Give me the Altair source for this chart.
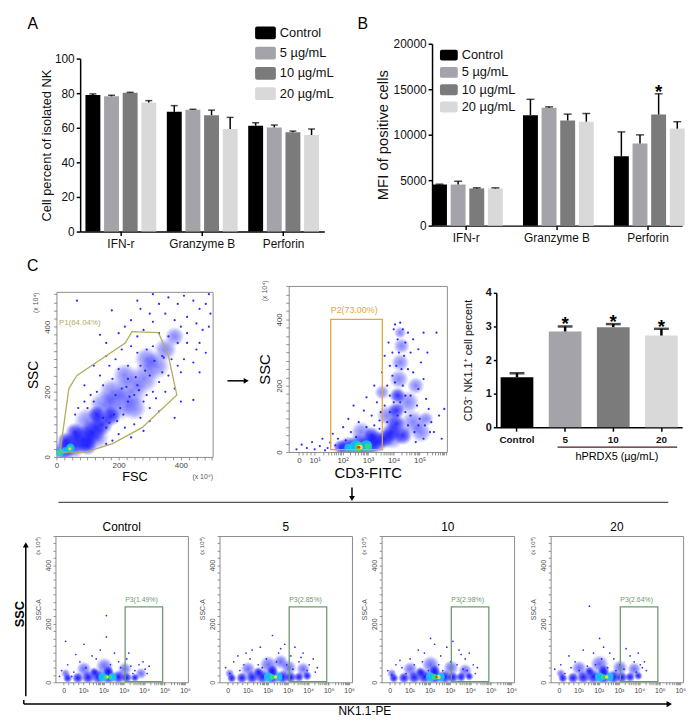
import math
import altair as alt
import pandas as pd

FONT = "Liberation Sans"

# ---------------------------------------------------------------- panel A / B
CATS = ["IFN-r", "Granzyme B", "Perforin"]
GROUPS = ["Control", " 5 µg/mL", "10 µg/mL", "20 µg/mL"]
GROUP_COLORS = ["#000000", "#a3a3a9", "#7b7b7b", "#d9d9d9"]

A_IFN = [79.0, 78.2, 80.2, 74.6]
A_IFN_ERR = [0.6, 0.6, 0.3, 1.1]
A_GZB = [69.2, 70.4, 67.3, 59.3]
A_GZB_ERR = [3.6, 0.3, 2.9, 6.7]
A_PRF = [61.2, 60.2, 57.4, 55.8]
A_PRF_ERR = [1.7, 1.4, 0.7, 3.5]
A_TICKS = [0, 20, 40, 60, 80, 100]

B_IFN = [4520, 4520, 4090, 4090]
B_IFN_ERR = [40, 360, 70, 70]
B_GZB = [12150, 12950, 11570, 11430]
B_GZB_ERR = [1740, 110, 690, 900]
B_PRF = [7630, 9040, 12220, 10670]
B_PRF_ERR = [2680, 940, 2280, 760]
B_TICKS = [0, 5000, 10000, 15000, 20000]
B_STAR = [("Perforin", "10 µg/mL")]

# ---------------------------------------------------------------- panel C bars
C_CATS = ["Control", "5", "10", "20"]
C_VALS = [1.49, 2.85, 2.98, 2.73]
C_ERRS = [0.12, 0.15, 0.09, 0.20]
C_STARS = ["", "*", "*", "*"]
C_TICKS = [0, 1, 2, 3, 4]

# ---------------------------------------------------------------- FSC / SSC dot plot
# density clusters: (x, y, relative spread, level 1-2 blue haze / 3-6 hot core)
S1_BLOBS = [
    (25, 20, 300, 2), (55, 35, 420, 2), (85, 55, 450, 2), (115, 75, 420, 2), (145, 100, 360, 2),
    (60, 75, 260, 2), (100, 35, 260, 2), (30, 50, 200, 2), (175, 125, 260, 2), (130, 130, 220, 2),
    (200, 160, 700, 1), (240, 200, 700, 1), (280, 240, 600, 1), (320, 280, 500, 1), (180, 200, 500, 1),
    (250, 150, 400, 1), (150, 160, 500, 1), (350, 330, 350, 1), (290, 300, 400, 1), (220, 250, 400, 1),
    (380, 370, 250, 1), (100, 110, 500, 1), (130, 60, 400, 1),
    (12, 14, 45, 3), (45, 28, 50, 3), (28, 20, 25, 3), (10, 12, 15, 4), (44, 26, 16, 4), (43, 25, 5, 5),
]
S1_DOTS = [
    (240, 420), (270, 455), (300, 440), (330, 470), (360, 490), (390, 470), (410, 495), (440, 480),
    (460, 455), (480, 470), (495, 440), (420, 430), (450, 410), (470, 390), (490, 400), (400, 400),
    (380, 420), (350, 440), (310, 415), (280, 390), (260, 370), (330, 380), (360, 370), (390, 350),
    (420, 350), (450, 330), (480, 320), (440, 290), (460, 260), (410, 300), (400, 260), (370, 300),
    (340, 310), (310, 340), (290, 330), (260, 320), (240, 340), (210, 330), (190, 300), (170, 280),
    (200, 270), (230, 280), (270, 280), (300, 250), (330, 230), (360, 250), (350, 200), (380, 210),
    (320, 180), (300, 150), (280, 170), (250, 190), (230, 170), (210, 210), (180, 240), (150, 220),
    (130, 200), (110, 190), (90, 170), (70, 150), (60, 130), (100, 150), (120, 170), (140, 250),
    (160, 310), (120, 280), (200, 380), (220, 400), (160, 350), (90, 220), (270, 120), (300, 110),
    (330, 140), (250, 100), (220, 90), (200, 70), (240, 60), (180, 50), (160, 40), (280, 80),
    (310, 200), (340, 260), (390, 280), (420, 380), (460, 350), (230, 240), (190, 190), (260, 220),
    (290, 190), (215, 130), (380, 120), (400, 170), (66, 480), (140, 375), (178, 450), (440, 175),
    (260, 480), (310, 500), (490, 500), (205, 150), (235, 185), (265, 205), (185, 130), (170, 105),
    (225, 215), (255, 245), (285, 265), (315, 295), (345, 305), (150, 120), (160, 90), (195, 110),
]
P1_X = [13, 40, 66, 221, 243, 328, 360, 387, 275, 179, 93, 18]
P1_Y = [25, 210, 250, 350, 385, 382, 310, 190, 90, 40, 15, 15]

# ---------------------------------------------------------------- CD3-FITC dot plot (decade positions)
S2_BLOBS = [
    (2.3, 18, 250, 2), (2.7, 20, 350, 2), (3.1, 22, 350, 2), (3.4, 30, 300, 2), (2.0, 15, 150, 2),
    (3.7, 40, 250, 2), (3.95, 60, 250, 2), (4.15, 85, 250, 2), (4.4, 50, 250, 2), (4.15, 125, 200, 2),
    (4.2, 170, 180, 2), (3.2, 50, 200, 2),
    (4.25, 220, 250, 1), (4.3, 270, 220, 1), (4.35, 320, 180, 1), (4.3, 360, 100, 1), (4.8, 90, 400, 1),
    (5.1, 60, 300, 1), (4.6, 150, 350, 1), (3.8, 110, 300, 1), (2.8, 60, 300, 1), (4.0, 40, 300, 1),
    (5.3, 100, 150, 1), (4.9, 200, 200, 1), (3.6, 180, 150, 1),
    (2.6, 15, 120, 3), (3.0, 18, 90, 3), (2.3, 13, 40, 3), (2.7, 15, 50, 4), (3.05, 17, 25, 4),
    (2.75, 14, 18, 5), (2.7, 14, 6, 6),
]
S2_DOTS = [
    (0.3, 8), (0.5, 22), (0.7, 12), (0.9, 30), (1.0, 8), (1.2, 18), (1.3, 40), (1.5, 12), (1.6, 28),
    (1.7, 55), (1.8, 20), (1.9, 40), (2.1, 75), (2.3, 100), (2.5, 140), (2.4, 60), (2.7, 90), (2.9, 125),
    (3.0, 165), (3.2, 110), (3.3, 200), (3.4, 150), (3.5, 95), (3.6, 240), (3.7, 290), (3.8, 200),
    (3.85, 330), (3.9, 260), (4.0, 300), (4.05, 370), (4.1, 385), (4.2, 340), (4.3, 390), (4.4, 370),
    (4.5, 330), (4.6, 360), (4.7, 300), (4.8, 340), (5.0, 310), (4.6, 250), (4.8, 240), (5.0, 190),
    (5.2, 220), (5.3, 160), (5.4, 130), (5.5, 90), (5.6, 60), (5.8, 110), (5.9, 40), (5.2, 40),
    (4.9, 30), (4.5, 120), (4.7, 170), (4.4, 200), (4.0, 230), (4.15, 260), (3.9, 170), (3.7, 140),
    (3.5, 70), (3.3, 80), (4.95, 140), (5.1, 270), (5.35, 300), (5.7, 360), (5.2, 360), (4.45, 290),
    (2.2, 35), (2.6, 45), (3.0, 75), (3.8, 90), (4.3, 150), (4.6, 80), (5.05, 100), (5.45, 60),
    (5.25, 80), (3.55, 120), (4.85, 60), (1.4, 5), (2.0, 8), (6.0, 130), (4.1, 210), (4.25, 300),
    (4.35, 250), (4.2, 110), (4.05, 150), (4.5, 170), (3.9, 120), (4.7, 110), (5.0, 80),
]
S2_GATE = (1.62, 3.61, 7, 400)

# ---------------------------------------------------------------- NK1.1-PE dot plots
P_TITLES = ["Control", "5", "10", "20"]
P_GATE_TEXT = ["P3(1.49%)", "P3(2.85%)", "P3(2.98%)", "P3(2.64%)"]
P_GATE = (3.42, 5.26, 2, 258)

PC_BLOBS = [
    (0.6, 14, 60, 2), (1.1, 15, 90, 2), (1.6, 17, 120, 2), (2.1, 19, 150, 2), (2.6, 19, 160, 2),
    (3.1, 18, 130, 2), (3.5, 16, 80, 2), (3.9, 16, 50, 2), (1.9, 35, 60, 2), (2.6, 38, 80, 2),
    (2.4, 55, 200, 1), (1.4, 45, 150, 1), (3.4, 45, 130, 1), (4.2, 30, 90, 1), (0.5, 30, 60, 1),
    (2.3, 18, 45, 3), (2.8, 18, 40, 3), (2.5, 18, 18, 4), (2.7, 18, 10, 4), (2.55, 18, 4, 5),
]
PC_DOTS = [
    (0.3, 40), (0.6, 60), (0.9, 35), (1.2, 70), (1.5, 50), (1.8, 90), (2.0, 80), (2.5, 228), (2.5, 155),
    (2.2, 110), (2.7, 60), (2.9, 100), (3.1, 70), (3.2, 50), (3.5, 80), (3.7, 55), (3.9, 40), (4.1, 60),
    (4.4, 45), (4.6, 55), (0.5, 140), (1.4, 130), (3.6, 100), (4.3, 70), (1.0, 95), (2.6, 40), (3.8, 30),
    (4.5, 30), (0.2, 20), (0.8, 20),
]
P5_BLOBS = [
    (0.6, 14, 60, 2), (1.1, 15, 90, 2), (1.6, 17, 120, 2), (2.1, 19, 150, 2), (2.6, 19, 170, 2),
    (3.1, 18, 140, 2), (3.5, 17, 90, 2), (3.9, 18, 70, 2), (4.3, 22, 60, 2), (1.9, 35, 70, 2),
    (2.6, 40, 90, 2), (2.4, 60, 220, 1), (1.4, 45, 150, 1), (3.4, 50, 160, 1), (4.1, 45, 130, 1),
    (3.0, 70, 150, 1), (0.5, 30, 60, 1),
    (2.4, 18, 55, 3), (2.9, 18, 40, 3), (2.6, 18, 20, 4), (2.75, 18, 8, 5),
]
P5_DOTS = [
    (0.3, 50), (0.7, 70), (1.0, 40), (1.3, 100), (1.6, 110), (2.0, 120), (2.3, 80), (2.6, 160), (2.9, 100),
    (3.2, 130), (3.5, 90), (3.7, 120), (3.9, 70), (4.1, 100), (4.4, 60), (4.6, 80), (4.8, 50), (3.3, 60),
    (2.8, 70), (1.9, 60), (1.2, 60), (0.5, 30), (4.3, 40), (4.7, 35), (3.6, 45), (2.1, 50), (4.0, 85),
    (0.9, 90), (3.0, 115), (1.5, 80),
]
P10_BLOBS = [
    (0.6, 14, 60, 2), (1.1, 15, 90, 2), (1.6, 17, 120, 2), (2.1, 19, 150, 2), (2.6, 19, 170, 2),
    (3.1, 18, 140, 2), (3.5, 17, 90, 2), (3.9, 18, 70, 2), (4.3, 20, 50, 2), (1.9, 35, 70, 2),
    (2.6, 40, 90, 2), (2.4, 60, 220, 1), (1.4, 45, 150, 1), (3.4, 50, 160, 1), (4.1, 40, 130, 1),
    (0.5, 30, 60, 1),
    (2.4, 18, 55, 3), (2.9, 18, 45, 3), (2.6, 18, 22, 4), (2.8, 18, 10, 5), (2.7, 18, 3, 6),
]
P10_DOTS = [
    (0.3, 40), (0.7, 60), (1.0, 50), (1.4, 80), (1.8, 110), (2.1, 100), (2.4, 150), (2.6, 130), (2.9, 90),
    (3.2, 120), (3.5, 140), (3.8, 110), (4.1, 80), (4.3, 100), (4.5, 60), (4.7, 50), (3.7, 60), (2.8, 60),
    (2.0, 70), (1.2, 30), (0.5, 25), (3.4, 70), (4.0, 45), (4.6, 30), (2.3, 40), (1.6, 60), (3.0, 40),
    (4.2, 40), (0.9, 75), (3.9, 95),
]
P20_BLOBS = [
    (0.6, 14, 60, 2), (1.1, 15, 90, 2), (1.6, 17, 120, 2), (2.1, 19, 150, 2), (2.6, 19, 170, 2),
    (3.1, 18, 140, 2), (3.5, 17, 90, 2), (3.9, 18, 70, 2), (4.3, 22, 50, 2), (1.9, 38, 70, 2),
    (2.6, 40, 90, 2), (2.4, 62, 230, 1), (1.4, 48, 160, 1), (3.4, 50, 160, 1), (4.1, 45, 130, 1),
    (0.5, 30, 60, 1),
    (2.4, 18, 55, 3), (2.9, 18, 40, 3), (2.6, 18, 20, 4), (2.75, 18, 8, 5),
]
P20_DOTS = [
    (0.2, 45), (0.5, 60), (0.9, 90), (1.2, 70), (1.6, 110), (1.9, 260), (2.1, 100), (2.4, 150), (2.6, 120),
    (2.9, 100), (3.1, 80), (3.4, 60), (3.7, 115), (3.9, 90), (4.1, 70), (4.3, 100), (4.5, 50), (4.7, 40),
    (2.2, 60), (1.4, 40), (0.7, 30), (3.6, 45), (4.2, 35), (4.6, 70), (2.8, 50), (1.8, 55), (3.2, 40),
    (1.0, 50), (2.5, 80), (4.4, 60),
]

# decade axis anchors (position, label)
S2_MAJORS = [(0.39, "0"), (1.0, "10¹"), (2.08, "10²"), (3.06, "10³"), (4.04, "10⁴"), (5.05, "10⁵")]
S2_TICK_ANCHORS = [0.39, 1.0, 2.08, 3.06, 4.04, 5.05, 6.05]
P_MAJORS = [(0.4, "0"), (1.37, "10¹"), (2.36, "10²"), (3.35, "10³"), (4.35, "10⁴"), (5.36, "10⁵"), (6.36, "10⁶")]

# ---------------------------------------------------------------- styles
HOT_LVLS = [3, 4, 5, 6]
HOT_COLORS = ["#10c8ff", "#33e36b", "#f4e43a", "#ff2b00"]
HOT_OPAC = [0.85, 0.95, 1.0, 1.0]
DOT_BLUE = "#1414ff"
GATE1 = "#b3ad5f"
GATE2 = "#e3a73c"
GATE3 = "#6d9a6f"
FRAME = "#8c8c8c"

ONE = pd.DataFrame({"k": [0]})


def anchor(L, R, T, B):
    return alt.Chart(ONE).mark_rect(color="#ffffff", opacity=0).encode(
        x=alt.value(L), x2=alt.value(R), y=alt.value(T), y2=alt.value(B))


def spacer():
    return alt.Chart(ONE).mark_rect(color="#ffffff", opacity=0).encode(
        x=alt.value(0), x2=alt.value(1), y=alt.value(0), y2=alt.value(1)).properties(width=1, height=1)


def vtext(txt, x, y, size, color="#000000", angle=0, weight="normal", align="center"):
    return alt.Chart(ONE).mark_text(text=txt, fontSize=size, color=color, angle=angle, fontWeight=weight,
                                    align=align, baseline="middle", font=FONT).encode(
        x=alt.value(x), y=alt.value(y))


def vrect(x1, y1, x2, y2, color):
    return alt.Chart(ONE).mark_rect(color=color, cornerRadius=2).encode(
        x=alt.value(x1), x2=alt.value(x2), y=alt.value(y1), y2=alt.value(y2))


def vrule(x1, y1, x2, y2, width=1.3, color="#000000"):
    return alt.Chart(ONE).mark_rule(color=color, strokeWidth=width).encode(
        x=alt.value(x1), y=alt.value(y1), x2=alt.value(x2), y2=alt.value(y2))


def vtri(x, y, shape, size=40):
    return alt.Chart(ONE).mark_point(shape=shape, filled=True, size=size, color="#000000", opacity=1).encode(
        x=alt.value(x), y=alt.value(y))


def manual_legend(x0, y0, w, h, step, fsize):
    out = []
    for i, (g, c) in enumerate(zip(GROUPS, GROUP_COLORS)):
        top = y0 + i * step
        out.append(vrect(x0, top, x0 + w, top + h, c))
        out.append(vtext(g, x0 + w + 4, top + h / 2, fsize, color="#111111", align="left"))
    return out


def tick_positions(anchors, end):
    vals = list(anchors)
    for k in range(len(anchors) - 1):
        a, b = anchors[k], anchors[k + 1]
        if k == 0:
            vals += [a + (b - a) * i / 4 for i in (1, 2, 3)]
        else:
            vals += [a + (b - a) * math.log10(m) for m in range(2, 10)]
    return sorted(v for v in vals if v <= end)


def label_expr(majors):
    expr = "''"
    for p, lab in reversed(majors):
        expr = f"abs(datum.value - {p}) < 0.001 ? '{lab}' : ({expr})"
    return expr


AX_SCAT = dict(grid=False, domain=False, tickColor="#777777", tickWidth=0.8, labelColor="#444444",
               labelFont=FONT, labelOverlap=False, labelFlush=False, titleFont=FONT,
               titleFontWeight="normal")


def radial(alpha):
    return alt.Gradient(gradient="radial", stops=[
        alt.GradientStop(offset=0, color=f"rgba(8,8,255,{alpha})"),
        alt.GradientStop(offset=0.55, color=f"rgba(16,16,255,{alpha * 0.65:.3f})"),
        alt.GradientStop(offset=1, color="rgba(40,40,255,0)")])


def cloud(blobs, dots, dot_size, X, Y, alphas=(0.5, 0.85)):
    bdf = pd.DataFrame([{"x": x, "y": y, "w": w, "lvl": l} for x, y, w, l in blobs])
    ddf = pd.DataFrame([{"x": x, "y": y} for x, y in dots])
    hot_df = bdf[bdf["lvl"] >= 3]
    layers = []
    for lvl, alpha in zip((1, 2), alphas):
        sub = bdf[bdf["lvl"] == lvl]
        layers.append(alt.Chart(sub).mark_circle(clip=True, strokeWidth=0, color=radial(alpha), opacity=1).encode(
            x=X("x:Q"), y=Y("y:Q"),
            size=alt.Size("w:Q", scale=alt.Scale(domain=[0, 700], range=[0, 1100]), legend=None)))
    layers.append(alt.Chart(ddf).mark_circle(clip=True, strokeWidth=0, color=DOT_BLUE, size=dot_size,
                                             opacity=0.9).encode(x=X("x:Q"), y=Y("y:Q")))
    layers.append(alt.Chart(hot_df).mark_circle(clip=True, strokeWidth=0).encode(
        x=X("x:Q"), y=Y("y:Q"),
        size=alt.Size("w:Q", scale=alt.Scale(domain=[0, 700], range=[0, 800]), legend=None),
        color=alt.Color("lvl:O", scale=alt.Scale(domain=HOT_LVLS, range=HOT_COLORS), legend=None),
        opacity=alt.Opacity("lvl:O", scale=alt.Scale(domain=HOT_LVLS, range=HOT_OPAC), legend=None),
        order=alt.Order("lvl:Q")))
    return layers


def gate_rect(g, color, X, Y):
    df = pd.DataFrame({"x": [g[0]], "x2": [g[1]], "y": [g[2]], "y2": [g[3]]})
    return alt.Chart(df).mark_rect(filled=False, color=color, strokeWidth=1.3).encode(
        x=X("x:Q"), x2="x2:Q", y=Y("y:Q"), y2="y2:Q")


def gate_label(x, y, text, color, size, X, Y):
    df = pd.DataFrame({"x": [x], "y": [y], "t": [text]})
    return alt.Chart(df).mark_text(align="left", baseline="middle", fontSize=size, color=color, font=FONT).encode(
        x=X("x:Q"), y=Y("y:Q"), text="t:N")


# ---------------------------------------------------------------- grouped bars (A, B)
def grouped_df(vals, errs):
    rows = []
    for c, vv, ee in zip(CATS, vals, errs):
        for g, v, e in zip(GROUPS, vv, ee):
            rows.append({"cat": c, "grp": g, "v": v, "top": v + e})
    return pd.DataFrame(rows)


def grouped_chart(df, ymax, yticks, ytitle, tsize, tpad, pin, pout, cap, w, h, box, extra_fn):
    xs = alt.Scale(domain=CATS, paddingInner=pin, paddingOuter=pout)
    xax = alt.Axis(title=None, labelAngle=0, labelFont=FONT, labelFontSize=12, labelColor="#111111",
                   labelPadding=3, domainColor="#000000", domainWidth=1.5, tickColor="#000000",
                   tickWidth=1.5, tickSize=4)
    ys = alt.Scale(domain=[0, ymax], nice=False)
    yax = alt.Axis(values=yticks, format="d", title=ytitle, titleFont=FONT, titleFontSize=tsize,
                   titleFontWeight="normal", titleColor="#111111", titlePadding=tpad, labelFont=FONT,
                   labelFontSize=12, labelColor="#111111", grid=False, domainColor="#000000",
                   domainWidth=1.5, tickColor="#000000", tickWidth=1.5, tickSize=4, labelPadding=2)

    def X():
        return alt.X("cat:N", scale=xs, axis=xax)

    def XO():
        return alt.XOffset("grp:N", scale=alt.Scale(domain=GROUPS, paddingInner=0.2, paddingOuter=0))

    def Y(f):
        return alt.Y(f, scale=ys, axis=yax)

    bars = alt.Chart(df).mark_bar().encode(
        x=X(), xOffset=XO(), y=Y("v:Q"),
        color=alt.Color("grp:N", scale=alt.Scale(domain=GROUPS, range=GROUP_COLORS), legend=None))
    err = alt.Chart(df).mark_rule(color="#000000", strokeWidth=1.5).encode(
        x=X(), xOffset=XO(), y=Y("v:Q"), y2="top:Q")
    caps = alt.Chart(df).mark_tick(color="#000000", thickness=1.5, size=cap, orient="horizontal").encode(
        x=X(), xOffset=XO(), y=Y("top:Q"))
    extra = extra_fn(X, XO, Y)
    return alt.layer(anchor(*box), bars, err, caps, *extra).properties(width=w, height=h)


dfA = grouped_df([A_IFN, A_GZB, A_PRF], [A_IFN_ERR, A_GZB_ERR, A_PRF_ERR])
chartA = grouped_chart(
    dfA, 100, A_TICKS, "Cell percent of isolated NK", 13, 1, 0.13, 0.065, 7, 247, 175,
    (-69, 267, -43, 196),
    lambda X, XO, Y: [vtext("A", -48, -35, 16)] + manual_legend(177, -32.5, 21, 13, 20.5, 13))

dfB = grouped_df([B_IFN, B_GZB, B_PRF], [B_IFN_ERR, B_GZB_ERR, B_PRF_ERR])
dfBstar = dfB[[(c, g) in B_STAR for c, g in zip(dfB["cat"], dfB["grp"])]]


def b_extra(X, XO, Y):
    star = alt.Chart(dfBstar).mark_text(text="*", fontSize=19, fontWeight="bold", baseline="alphabetic",
                                        dy=4, font=FONT, color="#000000").encode(
        x=X(), xOffset=XO(), y=Y("top:Q"))
    return [star, vtext("B", -70, -20, 16)] + manual_legend(8, 6, 18, 11, 17.5, 13)


chartB = grouped_chart(
    dfB, 20000, B_TICKS, "MFI of positive cells", 15, 3, 0.25, 0.0, 8, 253, 184,
    (-87, 258, -28, 211), b_extra)

# ---------------------------------------------------------------- C bar chart
dfC = pd.DataFrame({"cat": C_CATS, "v": C_VALS, "top": [v + e for v, e in zip(C_VALS, C_ERRS)],
                    "star": C_STARS})
xsC = alt.Scale(domain=C_CATS, paddingInner=0.32, paddingOuter=0.09)
xaxC = alt.Axis(title=None, labelAngle=0, labelFont=FONT, labelFontSize=10, labelFontWeight="bold",
                labelColor="#111111", labelPadding=3, domainColor="#000000", domainWidth=1.5,
                tickColor="#000000", tickWidth=1.5, tickSize=4)
ysC = alt.Scale(domain=[0, 4], nice=False)
yaxC = alt.Axis(values=C_TICKS, format="d", title="CD3⁻ NK1.1⁺ cell percent", titleFont=FONT,
                titleFontSize=11, titleFontWeight="normal", titleColor="#111111", titlePadding=12,
                labelFont=FONT, labelFontSize=11, labelFontWeight="bold", labelColor="#111111",
                grid=False, domainColor="#000000", domainWidth=1.5, tickColor="#000000", tickWidth=1.5,
                tickSize=3, labelPadding=2)
XC = alt.X("cat:N", scale=xsC, axis=xaxC)
barsC = alt.Chart(dfC).mark_bar().encode(
    x=XC, y=alt.Y("v:Q", scale=ysC, axis=yaxC),
    color=alt.Color("cat:N", scale=alt.Scale(domain=C_CATS, range=GROUP_COLORS), legend=None))
errC = alt.Chart(dfC).mark_rule(color="#000000", strokeWidth=2.5).encode(
    x=XC, y=alt.Y("v:Q", scale=ysC, axis=yaxC), y2="top:Q")
capC = alt.Chart(dfC).mark_tick(color="#000000", thickness=2.5, size=15, orient="horizontal").encode(
    x=XC, y=alt.Y("top:Q", scale=ysC, axis=yaxC))
starC = alt.Chart(dfC).mark_text(fontSize=19, fontWeight="bold", baseline="alphabetic", dy=4, font=FONT,
                                 color="#000000").encode(
    x=XC, y=alt.Y("top:Q", scale=ysC, axis=yaxC), text="star:N")
chartC = alt.layer(
    anchor(-40, 195, -36, 193), barsC, errC, capC, starC,
    vrule(62, 156, 183, 156, width=1.3, color="#4a1c1c"),
    vtext("hPRDX5  (µg/mL)", 122, 166, 11),
).properties(width=188, height=136)

# ---------------------------------------------------------------- FSC / SSC plot
ticks25 = list(range(0, 501, 25))
S1_XS = alt.Scale(domain=[0, 502], nice=False, zero=False)
S1_YS = alt.Scale(domain=[0, 507], nice=False, zero=False)
S1_XA = alt.Axis(values=ticks25, labelExpr="datum.value % 200 == 0 ? datum.label : ''", labelFontSize=8,
                 labelPadding=2, tickSize=3, title="FSC", titleFontSize=13, titlePadding=1,
                 titleColor="#000000", **AX_SCAT)
S1_YA = alt.Axis(values=ticks25, labelExpr="datum.value % 200 == 0 ? datum.label : ''", labelAngle=270,
                 labelFontSize=8, labelPadding=2, tickSize=3, title="SSC", titleFontSize=14, titlePadding=3,
                 titleColor="#000000", **AX_SCAT)


def X1(f):
    return alt.X(f, scale=S1_XS, axis=S1_XA)


def Y1(f):
    return alt.Y(f, scale=S1_YS, axis=S1_YA)


dfP1 = pd.DataFrame({"x": P1_X + [P1_X[0]], "y": P1_Y + [P1_Y[0]], "i": list(range(len(P1_X) + 1))})
poly1 = alt.Chart(dfP1).mark_line(color=GATE1, strokeWidth=1.3).encode(x=X1("x:Q"), y=Y1("y:Q"), order="i:Q")
chartS1 = alt.layer(
    anchor(-45, 168, -35, 195),
    *cloud(S1_BLOBS, S1_DOTS, 5, X1, Y1),
    poly1,
    gate_label(8, 412, "P1(64.04%)", GATE1, 8, X1, Y1),
    vtext("(x 10⁴)", -21, 11, 7, color="#555555", angle=270),
    vtext("(x 10⁴)", 148, 187, 7, color="#555555"),
    vtext("C", -24, -26, 16),
).properties(width=158, height=167, view=alt.ViewBackground(stroke=FRAME, strokeWidth=1))

# ---------------------------------------------------------------- CD3-FITC plot
S2_XS = alt.Scale(domain=[0, 6.1], nice=False, zero=False)
S2_YS = alt.Scale(domain=[0, 501], nice=False, zero=False)
S2_XA = alt.Axis(values=tick_positions(S2_TICK_ANCHORS, 6.08), labelExpr=label_expr(S2_MAJORS),
                 labelFontSize=8, labelPadding=2, tickSize=3, title="CD3-FITC", titleFontSize=15,
                 titlePadding=1, titleColor="#000000", **AX_SCAT)
S2_YA = alt.Axis(values=ticks25, labelExpr="datum.value % 200 == 0 ? datum.label : ''", labelAngle=270,
                 labelFontSize=8, labelPadding=2, tickSize=3, title="SSC", titleFontSize=15, titlePadding=3,
                 titleColor="#000000", **AX_SCAT)


def X2(f):
    return alt.X(f, scale=S2_XS, axis=S2_XA)


def Y2(f):
    return alt.Y(f, scale=S2_YS, axis=S2_YA)


chartS2 = alt.layer(
    anchor(-65, 168, -29, 200),
    *cloud(S2_BLOBS, S2_DOTS, 5, X2, Y2),
    gate_rect(S2_GATE, GATE2, X2, Y2),
    gate_label(S2_GATE[0], 428, "P2(73.00%)", GATE2, 9, X2, Y2),
    vtext("(x 10⁴)", -24, 5, 7, color="#555555", angle=270),
    vrule(-62, 96, -45, 96, width=1.5),
    vtri(-43, 96, "triangle-right", 35),
).properties(width=160, height=168, view=alt.ViewBackground(stroke=FRAME, strokeWidth=1))

# ---------------------------------------------------------------- connector
connector = alt.layer(
    vrule(50, 15, 667, 15, width=1.3, color="#555555"),
    vrule(347, 0, 347, 11, width=1.5),
    vtri(347, 11, "triangle-down", 35),
).properties(width=682, height=17)

# ---------------------------------------------------------------- NK1.1-PE plots
P_XS = alt.Scale(domain=[0, 6.5], nice=False, zero=False)
P_YS = alt.Scale(domain=[0, 500], nice=False, zero=False)
P_XA = alt.Axis(values=tick_positions([p for p, _ in P_MAJORS], 6.5), labelExpr=label_expr(P_MAJORS),
                labelFontSize=7, labelPadding=2, tickSize=2.5, title=None, **AX_SCAT)
P_YA = alt.Axis(values=ticks25, labelExpr="datum.value % 200 == 0 ? datum.label : ''", labelAngle=270,
                labelFontSize=7, labelPadding=2, tickSize=2.5, title="SSC-A", titleFontSize=7,
                titlePadding=3, titleColor="#555555", **AX_SCAT)


def XP(f):
    return alt.X(f, scale=P_XS, axis=P_XA)


def YP(f):
    return alt.Y(f, scale=P_YS, axis=P_YA)


def nk_panel(idx, blobs, dots, box, extra):
    layers = [
        anchor(*box),
        *cloud(blobs, dots, 3, XP, YP, alphas=(0.6, 0.95)),
        gate_rect(P_GATE, GATE3, XP, YP),
        gate_label(P_GATE[0], 280, P_GATE_TEXT[idx], GATE3, 7, XP, YP),
        vtext("(x 10⁴)", -18, 10, 6, color="#555555", angle=270),
        vtext(P_TITLES[idx], 67, -9, 12),
    ] + extra
    return alt.layer(*layers).properties(
        width=134, height=148, view=alt.ViewBackground(stroke=FRAME, strokeWidth=1))


panel1 = nk_panel(0, PC_BLOBS, PC_DOTS, (-44, 140, -27, 162), [
    vrule(-30, 9, -30, 162, width=1.5),
    vtri(-30, 9, "triangle-up", 35),
    vtext("SSC", -36, 79, 13, weight="bold", angle=270),
])
panel2 = nk_panel(1, P5_BLOBS, P5_DOTS, (-24, 138, -27, 162), [])
panel3 = nk_panel(2, P10_BLOBS, P10_DOTS, (-24, 145, -27, 162), [])
panel4 = nk_panel(3, P20_BLOBS, P20_DOTS, (-24, 142, -27, 162), [])

bottom_arrow = alt.layer(
    vrule(15, 0, 15, 4, width=1.5),
    vrule(15, 4, 666, 4, width=1.5),
    vtri(668, 4, "triangle-right", 40),
    vtext("NK1.1-PE", 360, 11.5, 12),
).properties(width=682, height=18)

RES = dict(color="independent", opacity="independent", size="independent")


def stack(*charts):
    return alt.concat(*charts, columns=1, spacing=0, align="none", bounds="full").resolve_scale(**RES)


def row(*charts):
    items = [spacer()] + [stack(spacer(), c) for c in charts]
    return alt.concat(*items, columns=len(items), spacing=0, align="none", bounds="full").resolve_scale(**RES)


row1 = row(chartA, chartB)
row2 = row(chartS1, chartS2, chartC)
row3 = row(panel1, panel2, panel3, panel4)

chart = stack(row1, row2, connector, row3, bottom_arrow).properties(
    padding=0
).configure(font=FONT).configure_view(stroke="transparent")

chart.save("out.html", embed_options={"renderer": "svg", "actions": False})
